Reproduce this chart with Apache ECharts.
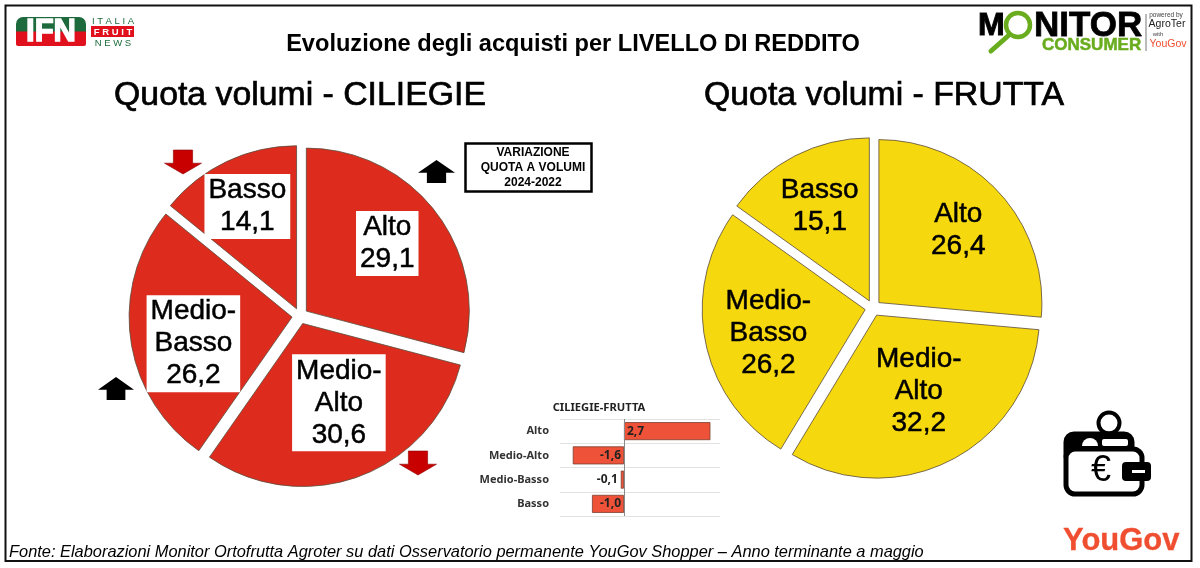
<!DOCTYPE html>
<html>
<head>
<meta charset="utf-8">
<style>html,body{margin:0;padding:0;background:#fff}#c{width:1200px;height:568px}</style>
<script src="https://cdn.jsdelivr.net/npm/echarts@6/dist/echarts.min.js"></script>
</head>
<body>
<div id="c"></div>
<script>
const categories = ['Alto', 'Medio-Alto', 'Medio-Basso', 'Basso'];
const ciliegieValues = [29.1, 30.6, 26.2, 14.1];
const fruttaValues = [26.4, 32.2, 26.2, 15.1];
const diffValues = [2.7, -1.6, -0.1, -1.0];
const diffLabelPlacement = ['insideLeft', 'insideRight', 'left', 'insideRight'];
const ciliegieLabelShift = [[14, -16], [7, 0], [-15, 15], [-13, -26]];
const fruttaLabelShift = [[17, -15], [4, 1], [-14, 7], [-11, -19]];

const SANS = '"Liberation Sans", Arial, sans-serif';
const comma = v => String(Number(v).toFixed(1)).replace('.', ',');
const pieLabel = p => p.name.replace('-', '-\n') + '\n' + comma(p.value);

function makePie(values, colour, center, radius, shift, boxed) {
  return {
    type: 'pie', center: center, radius: radius, startAngle: 90, clockwise: true,
    selectedMode: 'multiple', selectedOffset: 8, silent: true, animation: false,
    itemStyle: {color: colour, borderColor: '#5a4a3a', borderWidth: 0.8},
    select: {itemStyle: {color: colour, borderColor: '#5a4a3a', borderWidth: 0.8}},
    label: {
      show: true, position: 'inside', formatter: pieLabel, color: '#000',
      fontFamily: SANS, fontSize: 28, lineHeight: 32, align: 'center',
      textBorderColor: '#000', textBorderWidth: 0.5,
      backgroundColor: boxed ? '#fff' : 'transparent', padding: boxed ? [1, 4, 0, 4] : 0
    },
    labelLine: {show: false},
    labelLayout: p => ({dx: shift[p.dataIndex][0], dy: shift[p.dataIndex][1]}),
    data: categories.map((n, i) => ({name: n, value: values[i], selected: true}))
  };
}

function txt(x, y, text, size, opts) {
  return {type: 'text', x: x, y: y, silent: true, z: (opts && opts.z) || 10, style: Object.assign({
    text: text, fill: '#000', font: (opts && opts.weight || 'normal') + ' ' + size + 'px ' + SANS,
    textAlign: 'center', textVerticalAlign: 'middle'
  }, opts && opts.style)};
}
function upArrow(cx, top, colour, w, h) {
  return {type: 'polygon', silent: true, z: 10, shape: {points: [
    [cx, top], [cx + w / 2, top + h * 0.55], [cx + w * 0.26, top + h * 0.55], [cx + w * 0.26, top + h],
    [cx - w * 0.26, top + h], [cx - w * 0.26, top + h * 0.55], [cx - w / 2, top + h * 0.55]
  ]}, style: {fill: colour}};
}
function downArrow(cx, top, colour, w, h) {
  return {type: 'polygon', silent: true, z: 10, shape: {points: [
    [cx - w * 0.26, top], [cx + w * 0.26, top], [cx + w * 0.26, top + h * 0.55], [cx + w / 2, top + h * 0.55],
    [cx, top + h], [cx - w / 2, top + h * 0.55], [cx - w * 0.26, top + h * 0.55]
  ]}, style: {fill: colour, stroke: '#8f0000', lineWidth: 0.6}};
}

const GREEN = '#69ad1f', DARKGREEN = '#1d6b3c', IFNRED = '#e0101c', YG = '#f04e30';
const graphics = [
  {type: 'rect', silent: true, z: 9, shape: {x: 5.5, y: 5.5, width: 1186, height: 555.5}, style: {fill: 'none', stroke: '#111', lineWidth: 2}},
  // IFN logo
  {type: 'rect', silent: true, z: 10, shape: {x: 16, y: 17, width: 70, height: 29, r: [7, 7, 2, 2]},
    style: {fill: {type: 'linear', x: 0, y: 0, x2: 0, y2: 1, colorStops: [{offset: 0, color: DARKGREEN}, {offset: 0.48, color: DARKGREEN}, {offset: 0.52, color: IFNRED}, {offset: 1, color: IFNRED}]}}},
  txt(51, 32, 'IFN', 31, {weight: '900', style: {fill: '#fff', stroke: '#fff', lineWidth: 1.4}}),
  txt(113, 21, 'I T A L I A', 9.5, {style: {fill: DARKGREEN}}),
  {type: 'rect', silent: true, z: 10, shape: {x: 91, y: 26, width: 43, height: 11}, style: {fill: IFNRED}},
  txt(113, 32, 'F R U I T', 9.5, {weight: 'bold', style: {fill: '#fff'}}),
  txt(113, 43, 'N E W S', 9.5, {style: {fill: DARKGREEN}}),
  // Titles
  txt(573, 44, 'Evoluzione degli acquisti per LIVELLO DI REDDITO', 23.6, {weight: 'bold'}),
  txt(300, 96, 'Quota volumi - CILIEGIE', 33.8, {style: {stroke: '#000', lineWidth: 0.7}}),
  txt(884, 96, 'Quota volumi - FRUTTA', 33.8, {style: {stroke: '#000', lineWidth: 0.7}}),
  // Monitor Consumer logo
  txt(978, 26, 'M', 32, {weight: 'bold', style: {textAlign: 'left', stroke: '#111', lineWidth: 1}}),
  txt(1034, 26, 'NITOR', 35, {weight: 'bold', style: {textAlign: 'left', stroke: '#111', lineWidth: 0.8}}),
  {type: 'circle', silent: true, z: 10, shape: {cx: 1018, cy: 25, r: 12}, style: {fill: 'none', stroke: GREEN, lineWidth: 4.5}},
  {type: 'line', silent: true, z: 10, shape: {x1: 1008, y1: 36, x2: 991, y2: 51}, style: {stroke: GREEN, lineWidth: 5, lineCap: 'round'}},
  txt(1042, 45, 'CONSUMER', 17, {weight: 'bold', style: {textAlign: 'left', fill: GREEN, stroke: GREEN, lineWidth: 0.5}}),
  {type: 'line', silent: true, z: 10, shape: {x1: 1146, y1: 14, x2: 1146, y2: 51}, style: {stroke: '#777', lineWidth: 1}},
  txt(1166, 15, 'powered by', 6.5, {style: {fill: '#444'}}),
  txt(1167, 24, 'AgroTer', 10.5, {style: {fill: '#222'}}),
  txt(1158, 34, 'with', 6, {style: {fill: '#444'}}),
  txt(1168, 44, 'YouGov', 10.5, {style: {fill: YG}}),
  // Variation box
  {type: 'rect', silent: true, z: 10, shape: {x: 465.5, y: 143.5, width: 126, height: 48}, style: {fill: '#fff', stroke: '#000', lineWidth: 2.5}},
  txt(533, 153, 'VARIAZIONE', 12, {weight: 'bold'}),
  txt(533, 168, 'QUOTA A VOLUMI', 12, {weight: 'bold'}),
  txt(533, 183, '2024-2022', 12, {weight: 'bold'}),
  // Arrows
  upArrow(436.5, 160, '#000', 37, 23),
  upArrow(116, 377, '#000', 36, 23),
  downArrow(183, 150, '#c80000', 37, 24),
  downArrow(418, 451, '#c80000', 37, 24),
  // Wallet
  {type: 'circle', silent: true, z: 10, shape: {cx: 1109, cy: 423, r: 10.5}, style: {fill: '#fff', stroke: '#000', lineWidth: 4}},
  {type: 'rect', silent: true, z: 11, shape: {x: 1066, y: 434, width: 66, height: 30, r: 8}, style: {fill: '#000', stroke: '#000', lineWidth: 5}},
  {type: 'sector', silent: true, z: 12, shape: {cx: 1090, cy: 446, r: 8, r0: 0, startAngle: Math.PI, endAngle: 2 * Math.PI}, style: {fill: '#fff'}},
  {type: 'rect', silent: true, z: 12, shape: {x: 1102, y: 439, width: 26, height: 7, r: 2}, style: {fill: '#fff'}},
  {type: 'rect', silent: true, z: 13, shape: {x: 1066, y: 449, width: 76, height: 45, r: 9}, style: {fill: '#fff', stroke: '#000', lineWidth: 5}},
  txt(1101, 471, '€', 36, {z: 16}),
  {type: 'rect', silent: true, z: 14, shape: {x: 1122, y: 462, width: 29, height: 19, r: 4}, style: {fill: '#000'}},
  {type: 'rect', silent: true, z: 15, shape: {x: 1132, y: 470, width: 13, height: 3}, style: {fill: '#fff'}},
  // YouGov
  txt(1063, 541, 'YouGov', 31, {weight: 'bold', style: {textAlign: 'left', fill: YG, stroke: YG, lineWidth: 0.3}}),
  // Footer
  txt(9, 552, 'Fonte: Elaborazioni Monitor Ortofrutta Agroter su dati Osservatorio permanente YouGov Shopper – Anno terminante a maggio', 16.4,
    {style: {textAlign: 'left', font: 'italic 16.4px ' + SANS}})
];

const chart = echarts.init(document.getElementById('c'), null, {renderer: 'canvas'});
chart.setOption({
  animation: false,
  backgroundColor: '#fff',
  title: {text: 'CILIEGIE-FRUTTA', left: 594, top: 403, textAlign: 'center', textVerticalAlign: 'middle',
    textStyle: {fontFamily: '"Noto Sans"', fontWeight: 'bold', fontSize: 11.2, color: '#222'}},
  grid: {left: 560, top: 419, width: 160, height: 97},
  xAxis: {type: 'value', min: -2, max: 3, interval: 1, show: false},
  yAxis: {type: 'category', inverse: true, data: categories,
    axisLine: {show: false}, axisTick: {show: false},
    axisLabel: {margin: 11, fontFamily: '"Noto Sans"', fontWeight: 'bold', fontSize: 11, color: '#333'},
    splitLine: {show: true, lineStyle: {color: '#e2e2e2', width: 1}}},
  series: [
    makePie(ciliegieValues, '#dd2c1d', [300, 316], 163, ciliegieLabelShift, true),
    makePie(fruttaValues, '#f6d80e', [873, 308], 163, fruttaLabelShift, false),
    {type: 'bar', barWidth: 18, silent: true, animation: false,
      itemStyle: {color: '#ee5238', borderColor: '#7a3f30', borderWidth: 0.8},
      label: {show: true, fontFamily: '"Noto Sans"', fontWeight: 'bold', fontSize: 12, color: '#222', distance: 3,
        formatter: p => comma(p.value)},
      data: diffValues.map((v, i) => ({value: v, label: {position: diffLabelPlacement[i]}})),
      markLine: {silent: true, symbol: 'none', animation: false, label: {show: false},
        lineStyle: {color: '#8a8a8a', width: 1, type: 'solid'}, data: [{xAxis: 0}]}
    }
  ],
  graphic: {elements: graphics}
});
</script>
</body>
</html>
